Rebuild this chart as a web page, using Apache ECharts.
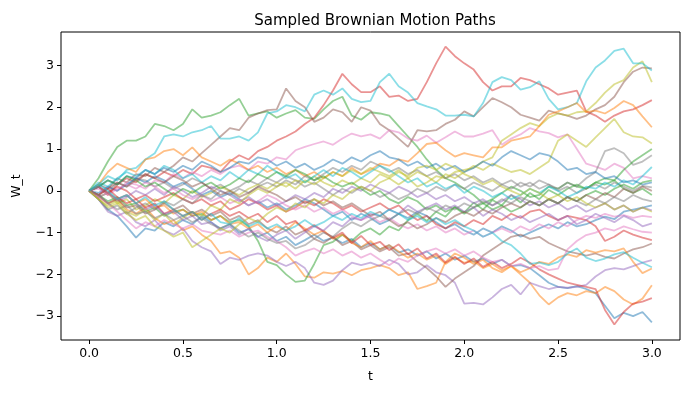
<!DOCTYPE html>
<html><head><meta charset="utf-8">
<script src="https://cdn.jsdelivr.net/npm/echarts@6/dist/echarts.min.js"></script>
<style>html,body{margin:0;padding:0;background:#fff}#c{width:689px;height:393px}</style>
</head><body><div id="c"></div>
<script>
const t = [0,0.05,0.1,0.15,0.2,0.25,0.3,0.35,0.4,0.45,
  0.5,0.55,0.6,0.65,0.7,0.75,0.8,0.85,0.9,0.95,
  1,1.05,1.1,1.15,1.2,1.25,1.3,1.35,1.4,1.45,
  1.5,1.55,1.6,1.65,1.7,1.75,1.8,1.85,1.9,1.95,
  2,2.05,2.1,2.15,2.2,2.25,2.3,2.35,2.4,2.45,
  2.5,2.55,2.6,2.65,2.7,2.75,2.8,2.85,2.9,2.95,3];
const xTicks = [0,0.5,1,1.5,2,2.5,3];
const yTicks = [-3,-2,-1,0,1,2,3];

const blueLow = [0,-0.2,-0.45,-0.6,-0.85,-1.12,-0.9,-0.95,-0.75,-0.85,
  -0.7,-0.8,-0.6,-0.75,-0.9,-0.8,-1.0,-0.92,-1.1,-1.0,
  -1.2,-1.1,-1.3,-1.18,-1.05,-1.2,-1.12,-1.25,-1.15,-1.35,
  -1.25,-1.4,-1.3,-1.48,-1.4,-1.55,-1.45,-1.62,-1.5,-1.65,
  -1.55,-1.7,-1.62,-1.75,-1.65,-1.8,-1.78,-1.85,-2.02,-2.2,
  -2.3,-2.33,-2.28,-2.35,-2.45,-2.75,-3.05,-2.92,-3.0,-2.9,-3.15];
const orangeLow1 = [0,-0.15,-0.3,-0.2,-0.45,-0.55,-0.4,-0.65,-0.8,-0.7,
  -0.95,-0.85,-1.05,-1.2,-1.5,-1.45,-1.6,-2.0,-1.85,-1.6,
  -1.7,-1.5,-1.75,-2.05,-2.08,-1.95,-1.98,-1.92,-2.02,-1.9,
  -1.85,-1.78,-1.85,-2.02,-1.95,-2.35,-2.28,-2.2,-1.7,-1.5,
  -1.6,-1.75,-1.65,-1.85,-1.95,-1.8,-2.0,-2.2,-2.5,-2.72,
  -2.55,-2.45,-2.5,-2.4,-2.45,-2.3,-2.4,-2.6,-2.72,-2.58,-2.26];
const greenHigh = [0,0.3,0.7,1.05,1.2,1.2,1.3,1.6,1.55,1.45,
  1.6,1.95,1.75,1.8,1.88,2.05,2.2,1.8,1.85,1.9,
  1.75,1.85,1.93,1.75,1.72,1.95,2.15,2.25,1.8,1.7,
  1.88,1.85,1.8,1.55,1.3,1.05,0.75,0.5,0.3,0.2,
  0.05,-0.1,-0.3,-0.2,-0.05,0.1,0.0,-0.15,-0.1,0.1,
  0.05,0.2,0.1,0.05,0.2,0.15,0.25,0.05,-0.05,0.05,-0.1];
const redHigh = [0,0.1,-0.1,0.15,0.3,0.2,0.4,0.3,0.45,0.35,
  0.5,0.4,0.6,0.55,0.45,0.7,0.85,0.75,0.95,1.05,
  1.2,1.3,1.42,1.6,1.75,2.05,2.4,2.8,2.55,2.36,
  2.36,2.5,2.25,2.28,2.15,2.2,2.6,3.05,3.45,3.22,
  3.05,2.9,2.6,2.4,2.5,2.5,2.7,2.65,2.55,2.45,
  2.3,2.35,2.4,1.9,1.8,1.65,1.8,1.9,1.95,2.05,2.17];
const purpleLow = [0,-0.2,-0.5,-0.6,-0.5,-0.75,-0.85,-0.7,-0.95,-1.05,
  -0.9,-1.2,-1.35,-1.45,-1.75,-1.6,-1.65,-1.55,-1.5,-1.55,
  -1.7,-1.8,-1.7,-1.85,-2.2,-2.25,-2.15,-1.9,-1.72,-1.78,
  -1.72,-1.8,-1.65,-1.75,-2.0,-1.95,-1.78,-1.95,-2.02,-2.2,
  -2.7,-2.68,-2.72,-2.55,-2.35,-2.25,-2.48,-2.2,-2.28,-2.35,
  -2.3,-2.32,-2.3,-2.25,-2.05,-1.9,-1.85,-1.88,-1.8,-1.72,-1.66];
const brownHigh = [0,0.15,0.05,0.3,0.2,0.4,0.35,0.55,0.45,0.6,
  0.8,0.7,0.9,1.1,1.3,1.5,1.45,1.75,1.85,1.93,
  1.95,2.45,2.15,2.0,1.65,1.75,1.95,1.88,1.65,2.0,
  1.92,1.6,1.45,1.25,1.05,1.45,1.42,1.45,1.6,1.7,
  1.9,1.78,2.0,2.22,2.12,2.0,1.82,1.75,1.68,1.92,
  1.85,1.8,1.72,1.8,1.95,2.05,2.25,2.6,2.85,2.95,2.93];
const pinkHigh = [0,-0.1,0.1,0.0,0.2,0.15,0.05,0.25,0.2,0.4,
  0.3,0.45,0.35,0.5,0.4,0.55,0.6,0.5,0.7,0.65,
  0.8,0.75,0.97,1.05,1.12,1.18,1.1,1.25,1.37,1.3,
  1.35,1.25,1.45,1.4,1.25,1.2,1.32,1.15,1.28,1.42,
  1.3,1.3,1.37,1.45,1.1,1.25,1.35,1.5,1.42,1.38,
  1.28,1.35,1.0,0.65,0.58,0.5,0.65,0.55,0.3,0.35,0.3];
const grayHigh = [0,0.1,-0.05,0.2,0.1,0.3,0.25,0.1,0.2,0.05,
  0.15,0.3,0.2,0.05,0.15,0.0,0.1,0.25,0.15,0.3,
  0.2,0.35,0.25,0.1,0.2,0.05,-0.1,0.05,-0.05,0.1,
  0.0,-0.15,-0.05,-0.2,-0.1,0.05,-0.05,0.1,0.0,0.15,
  0.05,0.2,0.1,0.0,0.15,0.05,0.2,0.1,0.25,0.15,
  0.05,0.2,0.1,0.3,0.45,0.95,1.02,0.9,0.62,0.7,0.85];
const oliveHigh = [0,-0.15,-0.05,-0.3,-0.2,-0.45,-0.35,-0.2,-0.3,-0.1,
  -0.2,0.0,-0.15,-0.05,0.1,0.0,-0.1,0.05,0.15,0.05,
  0.2,0.1,0.25,0.2,0.35,0.2,0.1,0.25,0.15,0.3,
  0.2,0.4,0.3,0.15,0.3,0.1,0.2,0.35,0.3,0.45,
  0.5,0.55,0.7,0.8,1.2,1.35,1.5,1.62,1.55,1.75,
  1.85,1.8,1.88,1.9,2.1,2.35,2.55,2.65,2.95,3.1,2.6];
const cyanHigh = [0,0.15,0.35,0.25,0.5,0.55,0.75,0.9,1.3,1.35,
  1.3,1.4,1.45,1.55,1.25,1.25,1.3,1.2,1.4,1.85,
  1.9,2.05,2.0,1.9,2.3,2.4,2.3,2.45,2.2,2.12,
  2.15,2.6,2.8,2.5,2.35,2.1,2.02,1.95,1.8,1.8,
  1.82,1.78,2.1,2.6,2.72,2.65,2.42,2.48,2.62,2.2,
  1.95,2.0,2.1,2.62,2.95,3.12,3.35,3.4,3.05,3.05,2.88];

const blueMid = [0,-0.05,0.1,0.0,0.15,0.3,0.2,0.35,0.25,0.1,
  0.2,0.05,-0.1,0.0,-0.15,-0.05,-0.2,-0.35,-0.25,-0.4,
  -0.3,-0.45,-0.35,-0.2,-0.3,-0.45,-0.6,-0.5,-0.7,-0.55,
  -0.65,-0.8,-0.7,-0.55,-0.65,-0.5,-0.6,-0.75,-0.9,-0.8,
  -0.95,-1.05,-0.9,-1.0,-0.85,-0.95,-1.1,-1.0,-0.9,-0.8,
  -0.9,-0.75,-0.85,-0.8,-0.7,-0.62,-0.68,-0.5,-0.45,-0.4,-0.35];
const orangeHigh = [0,0.15,0.45,0.65,0.55,0.45,0.75,0.8,0.95,1.0,
  0.85,1.04,0.8,0.7,0.6,0.75,0.65,0.5,0.6,0.45,
  0.55,0.4,0.5,0.35,0.45,0.3,0.45,0.35,0.55,0.4,
  0.5,0.65,0.6,0.75,0.7,0.9,1.12,1.15,0.97,0.82,
  0.9,0.85,0.8,1.04,1.04,1.2,1.25,1.3,1.55,1.82,
  1.9,2.0,2.1,1.88,1.92,1.85,1.98,2.15,2.05,1.78,1.52];
const greenLow = [0,-0.1,-0.25,-0.15,-0.35,-0.3,-0.5,-0.4,-0.6,-0.5,
  -0.45,-0.6,-0.55,-0.7,-0.6,-0.75,-0.7,-0.85,-1.2,-1.7,
  -1.78,-2.0,-2.18,-2.15,-1.75,-1.3,-1.22,-1.05,-1.2,-1.0,
  -0.9,-1.05,-0.85,-0.95,-0.7,-0.55,-0.72,-0.5,-0.62,-0.38,
  -0.52,-0.28,-0.45,-0.22,-0.35,-0.1,-0.28,-0.05,-0.2,0.02,
  -0.1,0.05,0.15,0.05,0.2,0.3,0.25,0.5,0.7,0.85,1.0];
const redMid = [0,0.1,-0.05,0.1,0.0,-0.2,-0.1,-0.25,-0.15,-0.05,
  -0.2,-0.3,-0.2,-0.35,-0.25,-0.45,-0.35,-0.2,-0.3,-0.45,
  -0.35,-0.5,-0.4,-0.25,-0.35,-0.2,-0.3,-0.45,-0.35,-0.5,
  -0.4,-0.3,-0.45,-0.35,-0.55,-0.7,-0.6,-0.8,-0.9,-0.75,
  -0.85,-0.7,-0.8,-0.6,-0.7,-0.55,-0.65,-0.5,-0.45,-0.6,
  -0.7,-0.6,-0.65,-0.7,-0.85,-1.2,-1.1,-0.95,-1.05,-1.12,-1.18];
const purpleMid = [0,-0.15,-0.05,-0.25,-0.15,0.0,-0.1,0.05,-0.1,0.1,
  0.0,-0.15,-0.05,0.1,0.0,-0.1,-0.25,-0.15,-0.3,-0.2,
  -0.35,-0.25,-0.1,-0.2,-0.05,-0.15,0.05,-0.05,0.1,0.0,
  0.15,0.05,-0.05,0.1,0.0,-0.15,-0.05,-0.2,-0.1,-0.25,
  -0.15,-0.3,-0.2,-0.35,-0.25,-0.1,-0.2,-0.35,-0.25,-0.4,
  -0.3,-0.45,-0.35,-0.5,-0.4,-0.3,-0.45,-0.35,-0.5,-0.4,-0.47];
const brownLow = [0,-0.1,-0.3,-0.2,-0.4,-0.35,-0.55,-0.45,-0.3,-0.45,
  -0.35,-0.55,-0.45,-0.6,-0.5,-0.7,-0.6,-0.8,-0.7,-0.9,
  -1.0,-0.85,-1.05,-0.95,-1.15,-1.25,-1.1,-1.3,-1.2,-1.4,
  -1.3,-1.45,-1.35,-1.55,-1.5,-1.7,-1.85,-2.05,-2.3,-2.1,
  -1.95,-1.8,-1.55,-1.4,-1.25,-1.1,-1.05,-1.15,-1.1,-1.25,
  -1.35,-1.45,-1.5,-1.55,-1.5,-1.58,-1.62,-1.5,-1.4,-1.35,-1.26];
const pinkMid = [0,0.05,-0.1,0.05,0.15,0.05,0.2,0.1,-0.05,0.05,
  -0.1,-0.2,-0.1,-0.25,-0.15,-0.3,-0.2,-0.35,-0.25,-0.1,
  -0.2,-0.35,-0.45,-0.35,-0.5,-0.4,-0.55,-0.45,-0.6,-0.7,
  -0.6,-0.75,-0.65,-0.8,-0.9,-0.8,-0.95,-0.85,-1.0,-0.9,
  -1.05,-0.95,-1.1,-1.0,-0.9,-1.0,-0.85,-0.95,-0.8,-0.9,
  -0.75,-0.85,-0.7,-0.6,-0.65,-0.55,-0.62,-0.58,-0.65,-0.6,-0.63];
const gray2 = [0,-0.2,-0.45,-0.35,-0.55,-0.4,-0.3,-0.45,-0.25,-0.35,
  -0.2,-0.3,-0.1,-0.2,0.0,-0.1,0.05,-0.05,0.1,0.2,
  0.1,0.25,0.15,0.35,0.25,0.4,0.55,0.45,0.6,0.5,
  0.7,0.6,0.45,0.55,0.4,0.5,0.35,0.45,0.3,0.4,
  0.25,0.35,0.2,0.3,0.15,0.25,0.1,0.2,0.05,0.15,
  0.0,0.1,-0.05,0.05,0.15,0.05,0.2,0.1,0.0,0.12,0.08];
const oliveMid = [0,-0.2,-0.35,-0.25,-0.5,-0.6,-0.45,-0.7,-0.55,-0.8,
  -0.65,-0.5,-0.6,-0.35,-0.45,-0.2,-0.3,-0.1,0.05,-0.05,
  0.1,0.2,0.05,0.25,0.15,0.3,0.45,0.35,0.5,0.4,
  0.55,0.45,0.35,0.5,0.3,0.45,0.35,0.2,0.4,0.3,
  0.45,0.6,0.5,0.65,0.55,0.45,0.5,0.4,0.55,0.7,
  1.2,1.35,1.2,1.05,1.28,1.5,1.72,1.4,1.3,1.28,1.13];
const cyanMid = [0,0.2,0.1,0.3,0.45,0.35,0.5,0.4,0.6,0.5,
  0.3,0.4,0.2,0.35,0.25,0.45,0.3,0.5,0.4,0.6,
  0.45,0.3,0.4,0.2,0.35,0.5,0.35,0.55,0.45,0.3,
  0.45,0.6,0.5,0.35,0.2,0.3,0.1,0.2,0.05,0.15,
  -0.05,0.1,0.0,-0.15,-0.05,-0.2,-0.1,0.05,-0.05,0.1,
  0.0,-0.15,-0.05,0.1,0.05,0.2,0.1,0.25,0.15,0.35,0.57];

const blue3 = [0,0.1,0.25,0.15,0.35,0.3,0.5,0.4,0.55,0.45,
  0.6,0.5,0.7,0.6,0.45,0.55,0.7,0.65,0.8,0.75,
  0.6,0.7,0.55,0.65,0.5,0.6,0.75,0.65,0.8,0.7,
  0.85,0.95,0.8,0.75,0.6,0.7,0.55,0.65,0.5,0.6,
  0.45,0.55,0.7,0.6,0.8,0.95,0.85,0.75,0.9,0.85,
  0.7,0.5,0.55,0.4,0.45,0.3,0.35,0.2,0.25,0.15,0.2];
const orangeLow2 = [0,0.1,-0.05,-0.2,-0.1,-0.3,-0.2,-0.4,-0.35,-0.55,
  -0.45,-0.6,-0.5,-0.7,-0.6,-0.8,-0.75,-0.9,-0.8,-1.0,
  -0.85,-0.95,-0.75,-0.9,-1.05,-0.95,-1.15,-1.05,-1.25,-1.35,
  -1.2,-1.4,-1.3,-1.45,-1.6,-1.5,-1.65,-1.55,-1.75,-1.6,
  -1.72,-1.68,-1.85,-1.75,-1.9,-1.8,-1.95,-1.85,-1.7,-1.75,
  -1.6,-1.52,-1.58,-1.42,-1.48,-1.42,-1.45,-1.38,-1.7,-1.97,-1.86];
const greenMid = [0,0.1,0.25,0.15,0.35,0.25,0.1,0.2,0.05,-0.1,
  0.05,-0.05,0.1,0.2,0.05,0.15,0.3,0.2,0.4,0.3,
  0.45,0.35,0.5,0.4,0.25,0.35,0.2,0.1,0.2,0.05,
  -0.1,0.0,-0.2,-0.3,-0.15,-0.25,-0.45,-0.35,-0.5,-0.4,
  -0.55,-0.4,-0.3,-0.45,-0.35,-0.5,-0.4,-0.25,-0.35,-0.2,
  -0.3,-0.15,-0.25,-0.1,0.0,-0.1,0.05,0.15,0.05,0.2,0.25];
const redLow = [0,-0.1,0.05,-0.15,-0.3,-0.2,-0.4,-0.3,-0.55,-0.45,
  -0.6,-0.5,-0.7,-0.55,-0.45,-0.6,-0.5,-0.65,-0.55,-0.75,
  -0.6,-0.8,-0.72,-0.95,-0.82,-0.98,-1.12,-1.0,-1.25,-1.08,
  -1.3,-1.22,-1.42,-1.28,-1.52,-1.38,-1.62,-1.5,-1.72,-1.58,
  -1.75,-1.62,-1.82,-1.7,-1.85,-1.75,-1.6,-1.72,-1.88,-2.0,
  -2.1,-2.2,-2.25,-2.3,-2.35,-2.85,-3.2,-2.9,-2.7,-2.65,-2.57];
const purple3 = [0,0.1,-0.05,-0.2,-0.1,-0.3,-0.45,-0.35,-0.55,-0.5,
  -0.7,-0.6,-0.8,-0.75,-0.95,-0.85,-1.05,-0.9,-1.1,-1.2,
  -1.05,-0.95,-1.15,-1.0,-0.85,-0.95,-0.75,-0.85,-0.65,-0.7,
  -0.55,-0.6,-0.45,-0.55,-0.35,-0.5,-0.4,-0.3,-0.45,-0.35,
  -0.5,-0.4,-0.6,-0.45,-0.55,-0.7,-0.6,-0.75,-0.65,-0.55,
  -0.7,-0.6,-0.8,-0.7,-0.55,-0.65,-0.75,-0.6,-0.7,-0.85,-0.78];
const brown3 = [0,-0.1,0.05,0.2,0.1,0.25,0.4,0.3,0.2,0.35,
  0.25,0.1,0.2,0.05,-0.1,0.0,-0.15,-0.05,0.1,0.0,
  -0.1,-0.25,-0.15,-0.3,-0.2,-0.35,-0.25,-0.4,-0.3,-0.45,
  -0.6,-0.5,-0.7,-0.85,-0.75,-0.9,-0.8,-0.65,-0.75,-0.6,
  -0.5,-0.6,-0.45,-0.55,-0.4,-0.3,-0.4,-0.25,-0.35,-0.2,
  -0.3,-0.15,-0.25,-0.1,-0.2,-0.05,-0.15,0.05,-0.05,0.1,0.0];
const pinkLow = [0,-0.15,-0.3,-0.5,-0.7,-0.9,-0.75,-0.85,-0.7,-0.8,
  -0.9,-0.8,-0.95,-1.0,-1.05,-0.95,-1.1,-1.0,-0.95,-1.1,
  -1.2,-1.35,-1.55,-1.45,-1.38,-1.5,-1.4,-1.55,-1.45,-1.6,
  -1.5,-1.65,-1.78,-1.62,-1.7,-1.55,-1.45,-1.38,-1.5,-1.4,
  -1.55,-1.45,-1.6,-1.7,-1.65,-1.8,-1.75,-1.85,-1.8,-1.9,
  -1.86,-1.4,-1.2,-1.06,-1.0,-0.9,-0.95,-0.85,-0.92,-0.98,-1.0];
const gray3 = [0,-0.1,-0.3,-0.45,-0.35,-0.55,-0.5,-0.65,-0.55,-0.7,
  -0.6,-0.75,-0.65,-0.8,-0.9,-0.8,-0.95,-1.1,-1.0,-1.15,
  -1.25,-1.2,-1.38,-1.3,-1.15,-1.0,-1.1,-0.9,-0.75,-0.85,
  -0.7,-0.6,-0.7,-0.55,-0.45,-0.55,-0.4,-0.5,-0.35,-0.45,
  -0.3,-0.4,-0.25,-0.35,-0.2,-0.3,-0.15,-0.25,-0.35,-0.2,
  -0.3,-0.15,-0.25,-0.35,-0.2,-0.3,-0.15,-0.25,-0.1,-0.2,-0.25];
const olive3 = [0,-0.2,-0.4,-0.3,-0.55,-0.7,-0.6,-0.85,-0.95,-1.1,
  -1.0,-1.35,-1.2,-1.05,-0.9,-1.0,-0.8,-0.65,-0.75,-0.55,
  -0.4,-0.5,-0.3,-0.4,-0.2,-0.3,-0.1,-0.2,0.0,0.1,
  0.0,0.2,0.3,0.45,0.35,0.55,0.6,0.5,0.65,0.55,
  0.4,0.3,0.15,0.25,0.1,0.0,-0.1,0.05,-0.05,-0.2,
  -0.1,-0.25,-0.15,-0.3,-0.4,-0.3,-0.45,-0.35,-0.5,-0.4,-0.5];
const cyanLow = [0,0.15,0.0,-0.2,-0.1,-0.3,-0.15,-0.35,-0.25,-0.45,
  -0.6,-0.5,-0.7,-0.55,-0.75,-0.8,-0.65,-0.85,-0.75,-0.9,
  -0.8,-0.95,-0.85,-0.7,-0.85,-0.75,-0.6,-0.7,-0.55,-0.65,
  -0.5,-0.6,-0.45,-0.55,-0.7,-0.6,-0.75,-0.65,-0.8,-0.7,
  -0.85,-0.95,-1.1,-1.0,-1.2,-1.3,-1.5,-1.75,-1.72,-1.78,
  -1.7,-1.5,-1.38,-1.6,-1.68,-1.62,-1.52,-1.47,-1.6,-1.72,-1.83];

const paths = [
  blueLow, orangeLow1, greenHigh, redHigh, purpleLow, brownHigh, pinkHigh, grayHigh, oliveHigh, cyanHigh,
  blueMid, orangeHigh, greenLow, redMid, purpleMid, brownLow, pinkMid, gray2, oliveMid, cyanMid,
  blue3, orangeLow2, greenMid, redLow, purple3, brown3, pinkLow, gray3, olive3, cyanLow
];
const colors = ['#1f77b4','#ff7f0e','#2ca02c','#d62728','#9467bd','#8c564b','#e377c2','#7f7f7f','#bcbd22','#17becf'];

const font = 'DejaVu Sans';
const minusFmt = v => (v < 0 ? '\u2212' + Math.abs(v) : String(v));
const chart = echarts.init(document.getElementById('c'), null, {renderer: 'canvas'});
chart.setOption({
  animation: false,
  backgroundColor: '#fff',
  title: {
    text: 'Sampled Brownian Motion Paths',
    left: 370, top: 9, textAlign: 'center',
    textStyle: {fontFamily: font, fontSize: 15, fontWeight: 'normal', color: '#000'}
  },
  grid: {left: 61, right: 9, top: 32, bottom: 53, show: true, borderColor: '#000', borderWidth: 1, backgroundColor: 'transparent'},
  xAxis: {
    type: 'value', min: -0.15, max: 3.15,
    splitLine: {show: false},
    axisLine: {show: false, onZero: false},
    axisTick: {show: true, customValues: xTicks, length: 4, lineStyle: {color: '#000', width: 1}},
    axisLabel: {customValues: xTicks, formatter: v => v.toFixed(1), color: '#000', fontSize: 12.5, fontFamily: font, margin: 7},
    name: 't', nameLocation: 'middle', nameGap: 30,
    nameTextStyle: {fontFamily: font, fontSize: 12.5, color: '#000'}
  },
  yAxis: {
    type: 'value', min: -3.57, max: 3.8,
    splitLine: {show: false},
    axisLine: {show: false, onZero: false},
    axisTick: {show: true, customValues: yTicks, length: 4, lineStyle: {color: '#000', width: 1}},
    axisLabel: {customValues: yTicks, formatter: minusFmt, color: '#000', fontSize: 12.5, fontFamily: font, margin: 7},
    name: 'W_t', nameLocation: 'middle', nameGap: 38, nameRotate: 90,
    nameTextStyle: {fontFamily: font, fontSize: 12.5, color: '#000'}
  },
  series: paths.map((p, i) => ({
    type: 'line',
    data: p.map((v, j) => [t[j], v]),
    showSymbol: false, symbol: 'none', silent: true,
    lineStyle: {width: 1.8, color: colors[i % 10], opacity: 0.5}
  }))
});
</script>
</body></html>
